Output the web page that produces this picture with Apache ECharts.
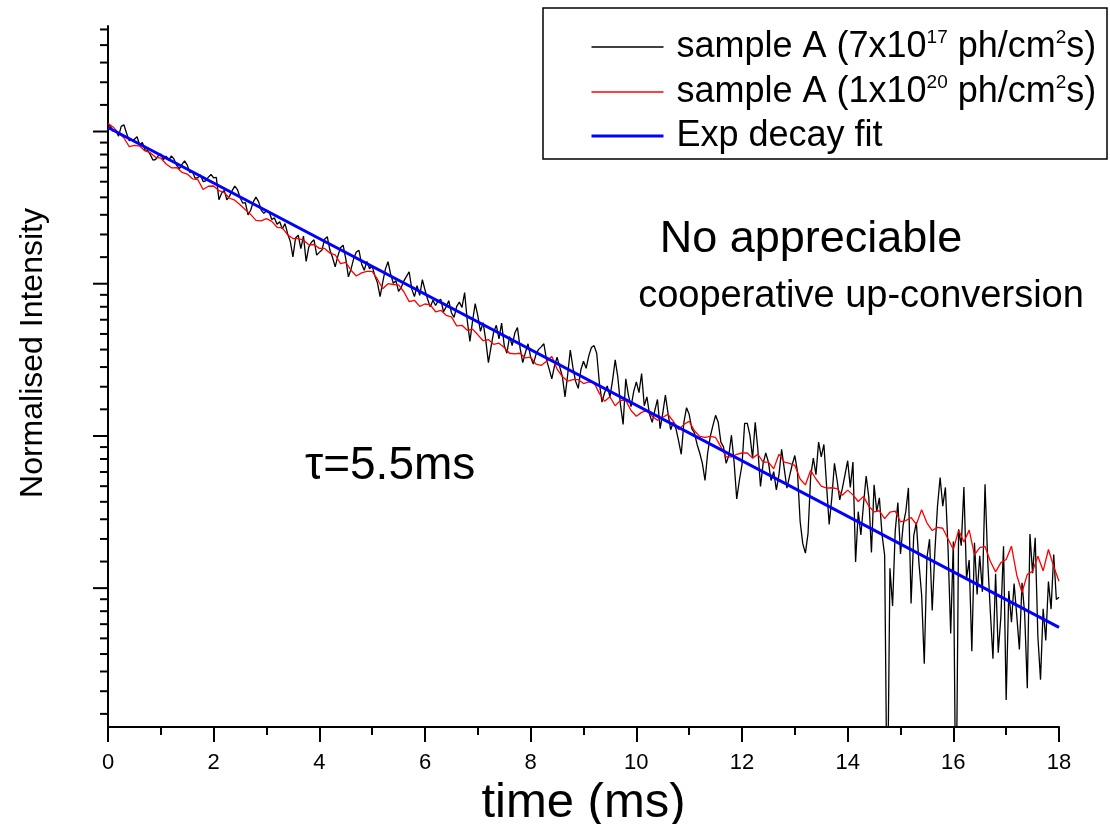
<!DOCTYPE html>
<html>
<head>
<meta charset="utf-8">
<script src="https://cdn.jsdelivr.net/npm/echarts@6/dist/echarts.min.js"></script>
<style>
  html, body { margin: 0; padding: 0; background: #fff; }
  #main { width: 1110px; height: 824px; }
</style>
</head>
<body>
<div id="main"></div>
<script>
// time axis in ms, traces sampled regularly
var blackStep = 0.05;
var redStep = 0.1;

// sample A (7x10^17 ph/cm2s), normalised intensity, one value per 0.05 ms
var blackValues = [
  1.048, 1.031, 1.001, 1.006, 0.970, 1.034, 1.045, 0.990, 0.942, 0.946,
  0.950, 0.966, 0.914, 0.930, 0.886, 0.884, 0.859, 0.829, 0.832, 0.852,
  0.862, 0.831, 0.851, 0.827, 0.852, 0.834, 0.800, 0.782, 0.806, 0.825,
  0.802, 0.764, 0.767, 0.736, 0.738, 0.752, 0.720, 0.723, 0.741, 0.754,
  0.737, 0.740, 0.639, 0.667, 0.679, 0.638, 0.654, 0.678, 0.699, 0.683,
  0.647, 0.625, 0.627, 0.578, 0.596, 0.630, 0.650, 0.631, 0.597, 0.584,
  0.594, 0.589, 0.561, 0.567, 0.544, 0.553, 0.527, 0.546, 0.511, 0.486,
  0.439, 0.497, 0.506, 0.463, 0.503, 0.426, 0.468, 0.483, 0.491, 0.444,
  0.452, 0.459, 0.493, 0.501, 0.459, 0.437, 0.411, 0.441, 0.466, 0.474,
  0.434, 0.385, 0.405, 0.434, 0.453, 0.458, 0.419, 0.402, 0.426, 0.406,
  0.413, 0.388, 0.370, 0.338, 0.372, 0.405, 0.425, 0.392, 0.369, 0.375,
  0.350, 0.359, 0.375, 0.386, 0.398, 0.355, 0.338, 0.363, 0.341, 0.378,
  0.353, 0.332, 0.316, 0.330, 0.319, 0.329, 0.332, 0.306, 0.316, 0.329,
  0.304, 0.295, 0.317, 0.326, 0.315, 0.347, 0.289, 0.252, 0.288, 0.323,
  0.298, 0.269, 0.285, 0.254, 0.219, 0.243, 0.268, 0.280, 0.256, 0.284,
  0.245, 0.233, 0.260, 0.245, 0.266, 0.276, 0.241, 0.219, 0.234, 0.248,
  0.227, 0.217, 0.231, 0.239, 0.243, 0.248, 0.223, 0.210, 0.197, 0.214,
  0.227, 0.213, 0.200, 0.175, 0.202, 0.238, 0.212, 0.194, 0.185, 0.209,
  0.221, 0.211, 0.229, 0.242, 0.245, 0.233, 0.192, 0.169, 0.180, 0.188,
  0.175, 0.195, 0.223, 0.199, 0.166, 0.146, 0.197, 0.177, 0.164, 0.181,
  0.193, 0.180, 0.204, 0.165, 0.175, 0.156, 0.148, 0.160, 0.172, 0.142,
  0.157, 0.177, 0.157, 0.141, 0.148, 0.142, 0.131, 0.120, 0.148, 0.163,
  0.156, 0.142, 0.138, 0.128, 0.121, 0.113, 0.101, 0.121, 0.135, 0.145,
  0.155, 0.148, 0.130, 0.126, 0.113, 0.119, 0.136, 0.114, 0.0895, 0.101,
  0.112, 0.147, 0.147, 0.136, 0.117, 0.148, 0.124, 0.0972, 0.113, 0.121,
  0.114, 0.101, 0.107, 0.0950, 0.105, 0.124, 0.109, 0.0960, 0.104, 0.112,
  0.119, 0.107, 0.0773, 0.0667, 0.0627, 0.0714, 0.104, 0.117, 0.105, 0.130,
  0.118, 0.128, 0.0981, 0.0757, 0.0901, 0.113, 0.101, 0.0889, 0.0960, 0.105,
  0.115, 0.0965, 0.114, 0.0591, 0.0823, 0.0706, 0.0864, 0.104, 0.0905, 0.0629,
  0.0982, 0.0825, 0.0901, 0.0710, 0.0617, 0.0100, 0.0567, 0.0443, 0.0724, 0.0874,
  0.0623, 0.0753, 0.0823, 0.0962, 0.0450, 0.0702, 0.0767, 0.0585, 0.0476, 0.0303,
  0.0608, 0.0687, 0.0430, 0.0631, 0.0853, 0.103, 0.0853, 0.0965, 0.0645, 0.0370,
  0.0676, 0.0100, 0.0733, 0.0658, 0.0967, 0.0530, 0.0599, 0.0329, 0.0671, 0.0478,
  0.0616, 0.0486, 0.0985, 0.0599, 0.0428, 0.0313, 0.0547, 0.0326, 0.0413, 0.0656,
  0.0239, 0.0489, 0.0398, 0.0513, 0.0417, 0.0333, 0.0516, 0.0420, 0.0258, 0.0711,
  0.0549, 0.0693, 0.0363, 0.0273, 0.0435, 0.0353, 0.0520, 0.0434, 0.0621, 0.0462,
  0.0469
];

// sample A (1x10^20 ph/cm2s), one value per 0.1 ms
var redValues = [
  1.055, 1.029, 0.990, 0.960, 0.906, 0.913, 0.909, 0.880, 0.870, 0.844,
  0.839, 0.808, 0.788, 0.789, 0.765, 0.756, 0.733, 0.729, 0.683, 0.698,
  0.699, 0.678, 0.670, 0.645, 0.637, 0.618, 0.598, 0.580, 0.558, 0.556,
  0.564, 0.554, 0.533, 0.531, 0.507, 0.495, 0.495, 0.490, 0.475, 0.476,
  0.464, 0.464, 0.450, 0.445, 0.420, 0.423, 0.402, 0.387, 0.395, 0.399,
  0.399, 0.379, 0.356, 0.368, 0.366, 0.365, 0.349, 0.327, 0.330, 0.317,
  0.322, 0.320, 0.306, 0.309, 0.299, 0.296, 0.279, 0.280, 0.271, 0.273,
  0.263, 0.253, 0.255, 0.247, 0.249, 0.242, 0.233, 0.232, 0.233, 0.226,
  0.227, 0.217, 0.215, 0.221, 0.228, 0.210, 0.200, 0.194, 0.196, 0.196,
  0.191, 0.193, 0.192, 0.179, 0.170, 0.175, 0.165, 0.171, 0.171, 0.160,
  0.154, 0.158, 0.160, 0.154, 0.150, 0.153, 0.156, 0.149, 0.141, 0.146,
  0.149, 0.140, 0.135, 0.134, 0.135, 0.134, 0.126, 0.118, 0.118, 0.120,
  0.121, 0.121, 0.117, 0.120, 0.114, 0.114, 0.109, 0.120, 0.114, 0.113,
  0.1115, 0.102, 0.0981, 0.108, 0.102, 0.0973, 0.0961, 0.0963, 0.0958, 0.0917,
  0.0948, 0.0919, 0.0880, 0.0910, 0.0853, 0.0822, 0.0828, 0.0786, 0.0820, 0.0826,
  0.0770, 0.0776, 0.0792, 0.0757, 0.0833, 0.0765, 0.0727, 0.0742, 0.0738, 0.0688,
  0.0642, 0.0728, 0.0674, 0.0729, 0.0620, 0.0650, 0.0655, 0.0594, 0.0554, 0.0589,
  0.0601, 0.0656, 0.0543, 0.0484, 0.0545, 0.0556, 0.0614, 0.0558, 0.0642, 0.0574,
  0.0521
];

// exponential decay fit (tau = 5.5 ms), end points
var fitTime = [0, 18];
var fitValues = [1.027, 0.0385];

// ln-scale y axis: major ticks at e^0, e^-1, e^-2, e^-3, minor ticks linear between
var yMajorTicks = [1, 0.3679, 0.1353, 0.0498];
var yMinorTicks = [
  1.191, 1.382, 1.573, 1.764, 1.955,
  0.4381, 0.5084, 0.5786, 0.6489, 0.7191, 0.7893, 0.8596, 0.9298,
  0.1612, 0.1870, 0.2128, 0.2387, 0.2645, 0.2904, 0.3162, 0.3420,
  0.0593, 0.0688, 0.0783, 0.0878, 0.0973, 0.1068, 0.1163, 0.1258,
  0.0218, 0.0253, 0.0288, 0.0323, 0.0358, 0.0393, 0.0428, 0.0463
];

var seriesNames = [
  'sample A (7x10^17 ph/cm^2s)',
  'sample A (1x10^20 ph/cm^2s)',
  'Exp decay fit'
];
var seriesColors = ['#000000', '#ff0000', '#0000ff'];
var seriesWidths = [1.3, 1.3, 3];

function pairs(values, step) {
  return values.map(function (v, i) { return [+(i * step).toFixed(2), v]; });
}

// "x^17" -> rich text with a superscript
function legendLabel(name) {
  var parts = name.split(/\^(\d+)/);
  return parts.map(function (p, i) {
    if (!p) return '';
    return (i % 2 ? '{sup|' : '{t|') + p + '}';
  }).join('');
}

var font = '"Liberation Sans", Arial, sans-serif';

var tickData = yMajorTicks.map(function (v) { return [0, v, 15]; })
  .concat(yMinorTicks.map(function (v) { return [0, v, 8]; }));

function lineSeries(i, data, z) {
  return {
    name: seriesNames[i],
    type: 'line',
    data: data,
    showSymbol: false,
    symbol: 'none',
    lineStyle: { color: seriesColors[i], width: seriesWidths[i] },
    itemStyle: { color: seriesColors[i] },
    z: z
  };
}

var option = {
  animation: false,
  backgroundColor: '#fff',
  textStyle: { fontFamily: font, color: '#000' },
  grid: { left: 108, right: 51, top: 26, bottom: 97, outerBoundsMode: 'none', containLabel: false },
  legend: {
    data: seriesNames.map(function (n, i) {
      return { name: n, lineStyle: { width: seriesWidths[i], color: seriesColors[i] } };
    }),
    orient: 'vertical',
    left: 585,
    top: 23,
    itemWidth: 72,
    itemHeight: 14,
    itemGap: 8,
    selectedMode: false,
    itemStyle: { opacity: 0, color: 'rgba(0,0,0,0)', borderWidth: 0 },
    formatter: legendLabel,
    textStyle: {
      fontFamily: font,
      color: '#000',
      fontSize: 36,
      padding: [0, 0, 0, 8],
      rich: {
        t: { fontSize: 36, lineHeight: 38, fontFamily: font, color: '#000' },
        sup: { fontSize: 19, lineHeight: 19, verticalAlign: 'top', fontFamily: font, color: '#000' }
      }
    }
  },
  xAxis: {
    type: 'value',
    min: 0,
    max: 18,
    interval: 2,
    name: 'time (ms)',
    nameLocation: 'middle',
    nameGap: 48,
    nameTextStyle: { fontSize: 49, fontFamily: font, color: '#000' },
    axisLine: { show: true, lineStyle: { color: '#000', width: 2 } },
    axisTick: { show: true, length: 15, lineStyle: { color: '#000', width: 2 } },
    minorTick: { show: true, splitNumber: 2, length: 8, lineStyle: { color: '#000', width: 2 } },
    axisLabel: { fontSize: 22, margin: 25, color: '#000', fontFamily: font },
    splitLine: { show: false }
  },
  yAxis: {
    type: 'log',
    logBase: Math.E,
    min: 0.02,
    max: 2,
    axisLine: { show: true, lineStyle: { color: '#000', width: 2 } },
    axisTick: { show: false },
    axisLabel: { show: false },
    splitLine: { show: false }
  },
  graphic: [
    {
      type: 'rect',
      shape: { x: 543, y: 8, width: 564, height: 151 },
      style: { fill: 'none', stroke: '#000', lineWidth: 1.5 },
      z: 1
    },
    {
      type: 'text',
      x: 33,
      y: 353,
      rotation: Math.PI / 2,
      style: {
        text: 'Normalised Intensity',
        font: '32px ' + font,
        fill: '#000',
        textAlign: 'center',
        textVerticalAlign: 'middle'
      }
    },
    {
      type: 'text',
      x: 811,
      y: 240,
      style: {
        text: 'No appreciable',
        font: '45px ' + font,
        fill: '#000',
        textAlign: 'center',
        textVerticalAlign: 'middle'
      }
    },
    {
      type: 'text',
      x: 861,
      y: 297,
      style: {
        text: 'cooperative up-conversion',
        font: '38px ' + font,
        fill: '#000',
        textAlign: 'center',
        textVerticalAlign: 'middle'
      }
    },
    {
      type: 'text',
      x: 305,
      y: 466,
      style: {
        text: 'τ=5.5ms',
        font: '46px ' + font,
        fill: '#000',
        textAlign: 'left',
        textVerticalAlign: 'middle'
      }
    }
  ],
  series: [
    lineSeries(0, pairs(blackValues, blackStep), 2),
    lineSeries(1, pairs(redValues, redStep), 3),
    lineSeries(2, fitTime.map(function (t, i) { return [t, fitValues[i]]; }), 4),
    {
      name: 'yTicks',
      type: 'custom',
      silent: true,
      clip: false,
      data: tickData,
      renderItem: function (params, api) {
        var p = api.coord([0, api.value(1)]);
        var len = api.value(2);
        return {
          type: 'line',
          shape: { x1: p[0] - len, y1: p[1], x2: p[0], y2: p[1] },
          style: { stroke: '#000', lineWidth: 2 }
        };
      },
      z: 5
    }
  ]
};

var chart = echarts.init(document.getElementById('main'));
chart.setOption(option);
</script>
</body>
</html>
